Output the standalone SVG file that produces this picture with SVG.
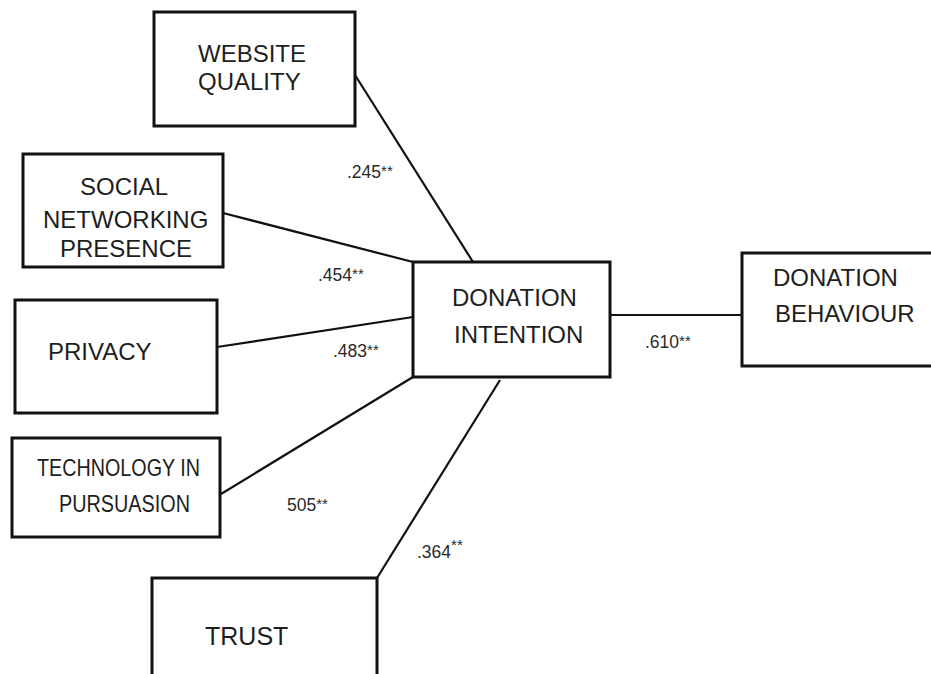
<svg xmlns="http://www.w3.org/2000/svg" width="931" height="674" viewBox="0 0 931 674">
<style>
.box{fill:#fff;stroke:#111;stroke-width:3}
.t{font-family:"Liberation Sans",Arial,sans-serif;font-size:24px;fill:#1e1e1e}
.c{fill:none;stroke:#111;stroke-width:2.2}
.l{font-family:"Liberation Sans",Arial,sans-serif;font-size:17.5px;fill:#2a2a2a}
.s{font-size:15px}
</style>
<rect width="931" height="674" fill="#fff"/>
<g id="connectors">
<line class="c" x1="355" y1="75" x2="473" y2="262"/>
<line class="c" x1="223" y1="213" x2="413" y2="262"/>
<line class="c" x1="217" y1="347" x2="413" y2="317"/>
<line class="c" x1="221" y1="494" x2="413" y2="377"/>
<line class="c" x1="377" y1="578" x2="500" y2="380"/>
<line class="c" x1="610" y1="315" x2="742" y2="315"/>
<text class="l" x="347" y="178">.245<tspan class="s" dy="-2">**</tspan></text>
<text class="l" x="318" y="281">.454<tspan class="s" dy="-2">**</tspan></text>
<text class="l" x="333" y="357">.483<tspan class="s" dy="-2">**</tspan></text>
<text class="l" x="287" y="511">505<tspan class="s" dy="-2">**</tspan></text>
<text class="l" x="417" y="558">.364<tspan class="s" dy="-8">**</tspan></text>
<text class="l" x="645" y="348">.610<tspan class="s" dy="-2">**</tspan></text>
</g>
<g id="website-quality">
<rect class="box" x="154" y="12" width="201" height="114"/>
<text class="t" x="198" y="62">WEBSITE</text>
<text class="t" x="198" y="90">QUALITY</text>
</g>
<g id="social-networking">
<rect class="box" x="23" y="154" width="200" height="113"/>
<text class="t" x="80" y="195">SOCIAL</text>
<text class="t" x="43" y="228">NETWORKING</text>
<text class="t" x="60" y="257">PRESENCE</text>
</g>
<g id="privacy">
<rect class="box" x="15" y="300" width="202" height="113"/>
<text class="t" x="48" y="360">PRIVACY</text>
</g>
<g id="technology">
<rect class="box" x="12" y="438" width="208" height="99"/>
<text class="t" x="37" y="476" textLength="163" lengthAdjust="spacingAndGlyphs">TECHNOLOGY IN</text>
<text class="t" x="59" y="512" textLength="131" lengthAdjust="spacingAndGlyphs">PURSUASION</text>
</g>
<g id="trust">
<rect class="box" x="152" y="578" width="225" height="110"/>
<text class="t" x="205" y="645" style="font-size:25px">TRUST</text>
</g>
<g id="donation-intention">
<rect class="box" x="413" y="262" width="197" height="115"/>
<text class="t" x="452" y="306">DONATION</text>
<text class="t" x="454" y="343">INTENTION</text>
</g>
<g id="donation-behaviour">
<rect class="box" x="742" y="253" width="200" height="113"/>
<text class="t" x="773" y="286">DONATION</text>
<text class="t" x="775" y="322">BEHAVIOUR</text>
</g>
</svg>
